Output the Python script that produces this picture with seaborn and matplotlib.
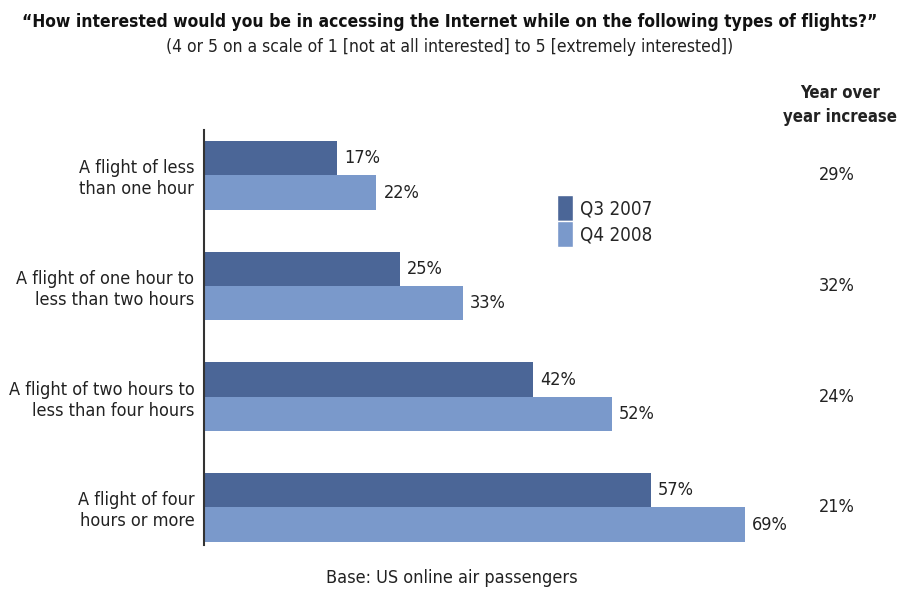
import matplotlib
matplotlib.use("Agg")
import matplotlib.pyplot as plt
import seaborn as sns
import pandas as pd
from matplotlib.patches import Patch

categories = ["A flight of less\nthan one hour",
              "A flight of one hour to\nless than two hours",
              "A flight of two hours to\nless than four hours",
              "A flight of four\nhours or more"]
series_names = ["Q3 2007", "Q4 2008"]
q3_2007 = [17, 25, 42, 57]
q4_2008 = [22, 33, 52, 69]
yoy_increase = ["29%", "32%", "24%", "21%"]
colors = ["#4b6697", "#7a99cb"]

sns.set_theme(style="white")
plt.rcParams['font.family'] = ['DejaVu Sans']
plt.rcParams['font.stretch'] = 'condensed'

df = pd.DataFrame({
    "category": categories * 2,
    "value": q3_2007 + q4_2008,
    "series": [series_names[0]] * 4 + [series_names[1]] * 4,
})

fig = plt.figure(figsize=(9, 5.89), dpi=100)
ax = fig.add_axes([0.2267, 0.0747, 0.7533, 0.7046])
sns.barplot(data=df, y="category", x="value", hue="series", order=categories,
            hue_order=series_names, palette=colors, orient="h", width=0.62,
            saturation=1, ax=ax, legend=False, edgecolor="none")

ax.set_xlim(0, 86.5)
ax.set_ylim(3.34, -0.41)
for c in ax.containers:
    ax.bar_label(c, labels=[f"{v:.0f}%" for v in c.datavalues], padding=5,
                 fontsize=13, color="#222222")

ax.set_xlabel("")
ax.set_ylabel("")
ax.set_xticks([])
ax.tick_params(axis="y", length=0, pad=7, labelsize=13, labelcolor="#222222")
for s in ["top", "right", "bottom"]:
    ax.spines[s].set_visible(False)
ax.spines["left"].set_color("#333333")
ax.spines["left"].set_linewidth(1.5)

for i, t in enumerate(yoy_increase):
    ax.annotate(t, xy=(837 / 900, i), xycoords=("figure fraction", "data"),
                fontsize=13, ha="center", va="center", color="#222222",
                annotation_clip=False)

hdr = fig.text(840 / 900, 1 - 105 / 589, "Year over\nyear increase", ha="center", va="center",
               fontsize=13, fontweight="bold", color="#222222", linespacing=1.45)

title = fig.text(0.5, 1 - 22 / 589,
                 "\u201cHow interested would you be in accessing the Internet while on the following types of flights?\u201d",
                 ha="center", va="center", fontsize=15, fontweight="bold", color="#111111")
sub = fig.text(0.5, 1 - 47 / 589,
               "(4 or 5 on a scale of 1 [not at all interested] to 5 [extremely interested])",
               ha="center", va="center", fontsize=14, color="#222222")
foot = fig.text(452 / 900, 1 - 578 / 589, "Base: US online air passengers",
                ha="center", va="center", fontsize=13.5, color="#222222")

fig.canvas.draw()
r = fig.canvas.get_renderer()
def fit(t, target):
    w = t.get_window_extent(renderer=r).width
    t.set_fontsize(t.get_fontsize() * target / w)
fit(title, 856)
fit(sub, 568)
fit(foot, 250)
fit(hdr, 114)

handles = [Patch(facecolor=colors[0], label=series_names[0]),
           Patch(facecolor=colors[1], label=series_names[1])]
fig.legend(handles=handles, loc="upper left", bbox_to_anchor=(548 / 900, 1 - 186 / 589),
           frameon=False, fontsize=13.5, handlelength=0.85, handleheight=1.75,
           handletextpad=0.35, labelspacing=0.0, borderpad=0)

fig.savefig("out.png", dpi=100)
